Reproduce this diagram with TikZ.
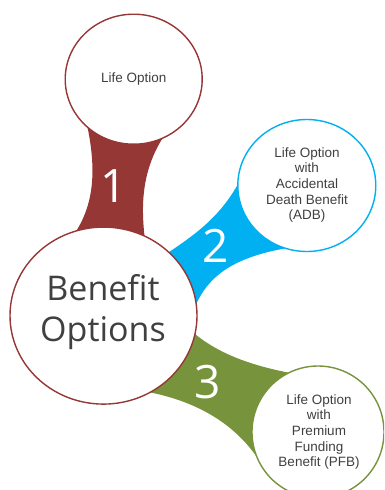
\documentclass[tikz,border=0pt]{standalone}
\usepackage{fontspec}
\setmainfont{Liberation Sans}
\newfontfamily\osans{Open Sans}
\usetikzlibrary{shapes.geometric}
\definecolor{bred}{HTML}{953735}
\definecolor{bblue}{HTML}{00B0F0}
\definecolor{bgreen}{HTML}{77933C}
\definecolor{txt}{HTML}{404040}
\begin{document}
\begin{tikzpicture}[x=1pt,y=-1pt,
  bubble/.style={ellipse, draw, fill=white, line width=1.4pt, inner sep=0pt},
  small/.style={text=txt, font=\fontsize{13.5}{15.6}\selectfont, align=center},
  big/.style={text=txt, font=\osans\fontsize{34}{41}\selectfont, align=center},
  num/.style={text=white, font=\osans\fontsize{46}{46}\selectfont, inner sep=0pt}]
\useasboundingbox (0,0) rectangle (384,490);
\clip (0,0) rectangle (384,490);
% bands
\fill[bred] (86,120) .. controls (96,165) and (97,205) .. (70,240) -- (145,240)
  .. controls (140,200) and (143,165) .. (168,130) -- cycle;
\fill[bblue] (160,258) .. controls (195,235) and (225,215) .. (245,170) -- (300,246)
  .. controls (235,255) and (205,275) .. (192,315) -- cycle;
\fill[bgreen] (185,325) .. controls (210,350) and (245,365) .. (296,374) -- (262,465)
  .. controls (235,420) and (190,400) .. (148,392) -- cycle;
% bubbles
\node[bubble, draw=bred, minimum width=137pt, minimum height=130pt] (life) at (133.7,79.2) {};
\node[bubble, draw=bblue, minimum width=138pt, minimum height=132pt] (adb) at (306.8,185.5) {};
\node[bubble, draw=bgreen, minimum width=132pt, minimum height=132pt] (pfb) at (318,432) {};
\node[bubble, draw=bred, minimum width=187pt, minimum height=177pt] (main) at (103.5,315.6) {};
% texts
\node[small] (lifet) at (133.7,79) {Life Option};
\node[small] (adbt) at (307,185) {Life Option\\with\\Accidental\\Death Benefit\\(ADB)};
\node[small] (pfbt) at (319,432) {Life Option\\with\\Premium\\Funding\\Benefit (PFB)};
\node[big] (maint) at (103,312.5) {Benefit\\Options};
\node[num] (n1) at (114,186) {1};
\node[num] (n2) at (216,246) {2};
\node[num] (n3) at (208,382) {3};
\end{tikzpicture}
\end{document}
